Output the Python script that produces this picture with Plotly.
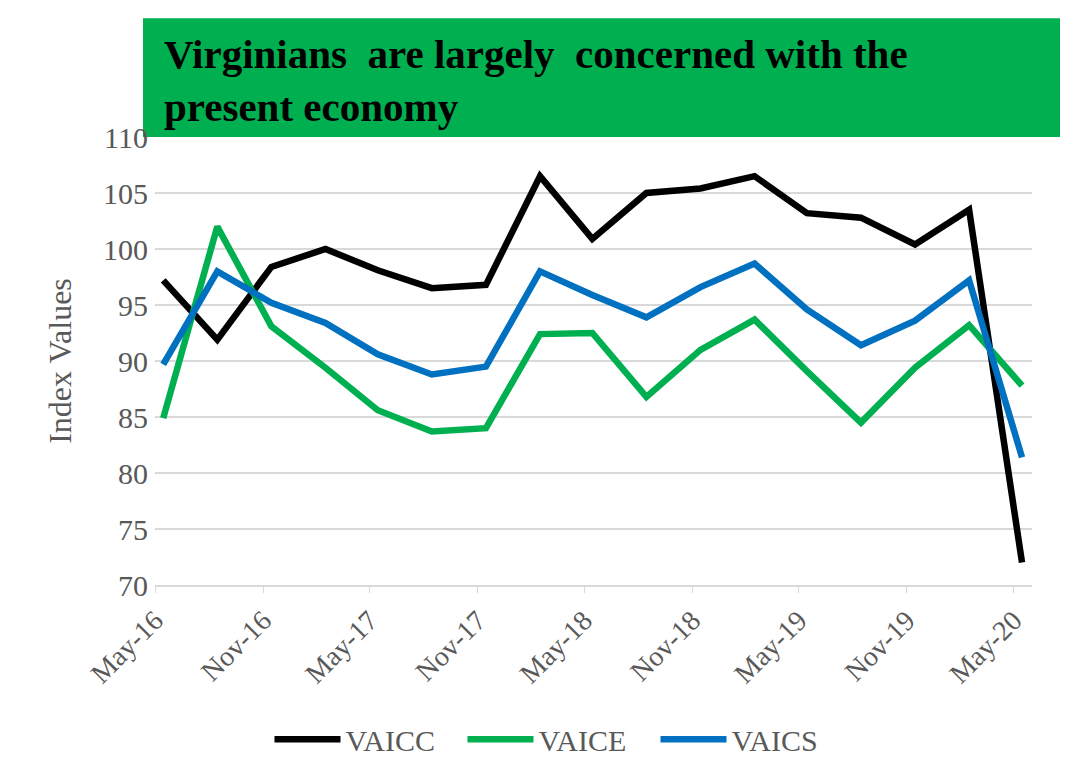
import plotly.graph_objects as go

dates = ["2016-05-15", "2016-08-15", "2016-11-15", "2017-02-15", "2017-05-15",
         "2017-08-15", "2017-11-15", "2018-02-15", "2018-05-15", "2018-08-15",
         "2018-11-15", "2019-02-15", "2019-05-15", "2019-08-15", "2019-11-15",
         "2020-02-15", "2020-05-15"]
vaicc = [97.2, 91.9, 98.4, 100.0, 98.1, 96.5, 96.8, 106.5, 100.9, 105.0,
         105.4, 106.5, 103.2, 102.8, 100.4, 103.5, 72.0]
vaice = [84.9, 102.0, 93.1, 89.4, 85.6, 83.7, 84.0, 92.4, 92.5, 86.8,
         91.0, 93.7, 89.1, 84.5, 89.4, 93.2, 87.8]
vaics = [89.7, 98.0, 95.2, 93.4, 90.6, 88.8, 89.5, 98.0, 95.9, 93.9,
         96.6, 98.7, 94.6, 91.4, 93.6, 97.2, 81.4]

series = [("VAICC", vaicc, "#000000"), ("VAICE", vaice, "#00B050"), ("VAICS", vaics, "#0070C0")]

title_text = "Virginians\u00a0 are largely\u00a0 concerned with the<br>present economy"

FONT = "Liberation Serif"
GRAY = "#595959"

fig = go.Figure()
for name, vals, color in series:
    fig.add_trace(go.Scatter(x=dates, y=vals, name=name, mode="lines",
                             line=dict(color=color, width=6.5)))

# page has an 8px body margin; work in page coordinates and convert
OFF = 8
W, H = 1070, 773
L, R, T, B = 155 - OFF, 46, 137 - OFF, 195.5
pw, ph = W - L - R, H - T - B

def px_x(p):
    return (p - OFF - L) / pw

def px_y(p):
    return (H - B - (p - OFF)) / ph

fig.add_shape(type="rect", xref="paper", yref="paper",
              x0=px_x(143), x1=px_x(1060), y0=px_y(137), y1=px_y(18),
              fillcolor="#00B050", line=dict(width=0), layer="below")
fig.add_annotation(xref="paper", yref="paper", x=px_x(162), y=px_y(29),
                   xanchor="left", yanchor="top", align="left", showarrow=False,
                   text="<b>" + title_text + "</b>",
                   font=dict(family=FONT, size=41, color="#000000"))

fig.update_layout(
    width=W, height=H,
    margin=dict(l=L, r=R, t=T, b=B),
    paper_bgcolor="white", plot_bgcolor="white",
    font=dict(family=FONT, color=GRAY),
    showlegend=True,
    legend=dict(orientation="h", x=px_x(559), y=px_y(740), xanchor="center", yanchor="middle",
                font=dict(family=FONT, size=30, color=GRAY), itemwidth=66,
                entrywidth=112, entrywidthmode="pixels"),
    xaxis=dict(type="date", range=["2016-05-01", "2020-06-01"],
               tick0="2016-05-01", dtick="M6", tickformat="%b-%y",
               tickangle=-45, tickfont=dict(family=FONT, size=28, color=GRAY),
               showgrid=False, showline=True, linecolor="#D9D9D9", linewidth=1.5,
               ticks="outside", ticklen=6, tickcolor="#D9D9D9", zeroline=False),
    yaxis=dict(range=[70, 110], dtick=5, tick0=70,
               tickfont=dict(family=FONT, size=30, color=GRAY),
               showgrid=True, gridcolor="#D9D9D9", gridwidth=1.5,
               showline=False, zeroline=False, ticks="", ticklabelstandoff=6,
               title=dict(text="Index Values", font=dict(family=FONT, size=32, color=GRAY),
                          standoff=21)),
)

fig.write_html("out.html")
